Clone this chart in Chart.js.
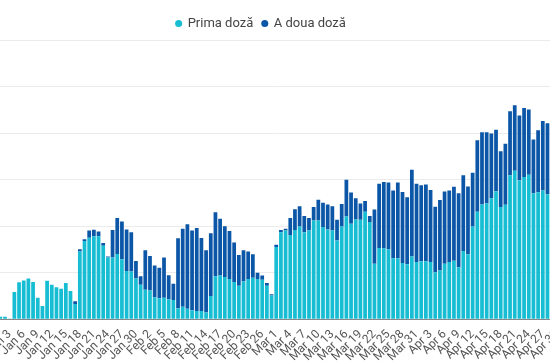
<!DOCTYPE html>
<html>
<head>
<meta charset="utf-8">
<script src="https://cdn.jsdelivr.net/npm/chart.js"></script>
<style>
  html, body { margin: 0; padding: 0; background: #fff; }
  body { width: 550px; height: 362px; overflow: hidden; position: relative; }
  #wrap { position: absolute; left: -45px; top: 0; width: 612px; height: 364px; }
</style>
</head>
<body>
<div id="wrap"><canvas id="chart"></canvas></div>
<script>
// daily doses, Jan 1 - Apr 30
const months = [["Jan", 31], ["Feb", 28], ["Mar", 31], ["Apr", 30]];
const labels = [];
months.forEach(([m, n]) => {
  for (let d = 1; d <= n; d++) labels.push(m + " " + d);
});

const primaDoza = [
  // Jan
  1100, 1100, 300, 11700, 15900, 16700, 17500, 16000, 9200, 5700,
  16600, 14800, 13800, 13100, 15600, 12100, 6600, 29100, 33600, 35000,
  35700, 35700, 31600, 26500, 26500, 28000, 25800, 20700, 20500, 17500, 14800,
  // Feb
  12700, 12400, 9500, 9000, 9300, 8600, 8300, 4700, 5400, 4500,
  3900, 3600, 3600, 2900, 10000, 18500, 18800, 18200, 17300, 16000,
  14400, 16300, 17300, 17800, 17300, 17000, 14400, 10200,
  // Mar
  31100, 37400, 38100, 36200, 38400, 39900, 37400, 38100, 42400, 42400,
  39600, 38600, 38100, 33800, 39900, 44200, 41000, 42900, 42800, 46200,
  41800, 23900, 30600, 30400, 30100, 26200, 26200, 24200, 23600, 27000, 24600,
  // Apr
  24900, 24900, 24600, 20200, 21000, 23900, 24600, 25200, 22400, 29300,
  27900, 39900, 46200, 49300, 49800, 52000, 55000, 48200, 49200, 61900,
  63800, 59700, 61100, 62100, 54200, 54600, 55300, 53700, 51200, 52000
];

const aDouaDoza = [
  // Jan
  0, 0, 0, 0, 0, 0, 0, 0, 0, 0,
  0, 0, 0, 0, 0, 0, 1100, 1000, 800, 3100,
  2800, 2000, 1200, 500, 11900, 15500, 16200, 17900, 16900, 7500, 3700,
  // Feb
  17000, 14800, 13600, 13100, 17200, 10300, 7000, 30100, 33500, 36300,
  34200, 35600, 31300, 26800, 27000, 27500, 24400, 21800, 20600, 17000,
  13200, 13400, 11800, 10100, 2700, 1800, 1200, 600,
  // Mar
  900, 1000, 800, 7300, 8900, 8700, 7000, 5400, 5800, 9000,
  10500, 10700, 10500, 9000, 9600, 15800, 13500, 9100, 7000, 4600,
  2600, 23300, 27600, 28600, 28700, 29100, 32600, 30500, 28800, 37300, 33600,
  // Apr
  32700, 33000, 30900, 28100, 30200, 31000, 30700, 31700, 31800, 32600,
  29200, 23100, 30700, 31100, 30600, 27800, 26400, 24000, 26200, 27500,
  28200, 27900, 29700, 28000, 23100, 26600, 29900, 30500, 29600, 30000
];

const ctx = document.getElementById("chart").getContext("2d");

new Chart(ctx, {
  type: "bar",
  data: {
    labels: labels,
    datasets: [
      {
        label: "Prima doză",
        data: primaDoza,
        backgroundColor: "#17bdd3",
        borderWidth: 0,
      },
      {
        label: "A doua doză",
        data: aDouaDoza,
        backgroundColor: "#0b56a6",
        borderWidth: 0,
      },
    ],
  },
  options: {
    responsive: true,
    maintainAspectRatio: false,
    animation: false,
    layout: { padding: { top: 8, bottom: 0 } },
    datasets: {
      bar: { categoryPercentage: 1.0, barPercentage: 0.8 },
    },
    scales: {
      x: {
        stacked: true,
        grid: { display: false },
        border: { display: true, color: "#888" },
        ticks: {
          autoSkip: false,
          minRotation: 45,
          maxRotation: 45,
          padding: 0,
          color: "#555",
          font: { family: "Roboto", size: 12 },
          callback: function (value, index) {
            return (index - 2) % 3 === 0 ? labels[index] : "";
          },
        },
      },
      y: {
        stacked: true,
        min: 0,
        max: 120000,
        ticks: { display: false, stepSize: 20000 },
        grid: { color: "#ebebeb", drawTicks: false },
        border: { display: false },
        // the value labels sit off-screen on the left
        afterFit: function (scale) {
          scale.width = 43;
        },
      },
    },
    plugins: {
      legend: {
        position: "top",
        labels: {
          usePointStyle: true,
          pointStyle: "circle",
          boxWidth: 5,
          boxHeight: 5,
          padding: 9,
          color: "#444",
          font: { family: "Roboto", size: 13 },
        },
      },
      tooltip: { enabled: false },
    },
  },
});
</script>
</body>
</html>
